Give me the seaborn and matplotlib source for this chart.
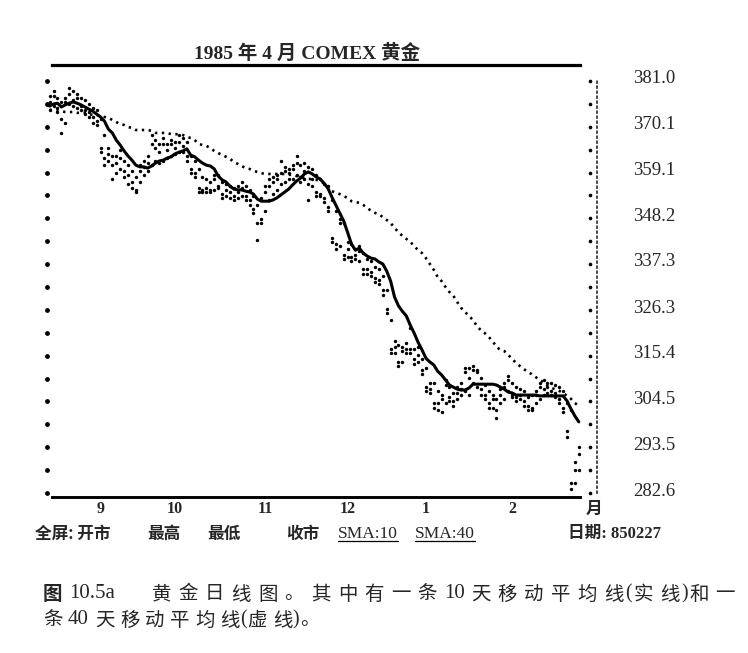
import numpy as np
import pandas as pd
import matplotlib
matplotlib.use('Agg')
import matplotlib.pyplot as plt
import matplotlib.transforms as mtransforms
from matplotlib.lines import Line2D
import seaborn as sns

# ---- data (one value per trading day, Aug 1984 - 27 Feb 1985) ----
highs = [377.5, 378.5, 377.0, 376.0, 377.0, 379.3, 378.5, 378.0, 377.0, 376.5,
         375.5, 374.5, 374.0, 372.0, 368.0, 365.0, 363.0, 363.0, 364.5, 362.0,
         361.0, 359.5, 358.0, 361.0, 362.0, 363.0, 368.0, 367.0, 366.0, 367.5,
         366.0, 367.0, 366.5, 368.0, 367.5, 366.5, 363.0, 362.0, 360.0, 358.0,
         357.5, 357.0, 358.5, 358.5, 357.0, 356.5, 356.0, 355.5, 356.0, 357.0,
         356.0, 355.0, 353.5, 351.5, 353.0, 356.0, 357.5, 358.0, 358.5, 362.0,
         360.5, 360.0, 361.0, 363.0, 361.0, 361.5, 360.5, 360.0, 358.5, 357.5,
         356.5, 356.0, 352.5, 350.0, 348.0, 347.0, 342.5, 342.0, 341.0, 341.5,
         340.0, 338.5, 338.0, 336.5, 336.0, 334.5, 331.0, 324.0, 319.0, 318.0,
         317.5, 318.5, 322.0, 317.0, 317.5, 314.5, 312.5, 309.0, 309.0, 307.0,
         306.0, 309.5, 308.0, 306.5, 308.0, 309.0, 312.5, 312.5, 313.0, 312.0,
         310.0, 308.5, 307.0, 306.0, 305.0, 307.5, 309.0, 310.5, 309.0, 308.0,
         307.5, 307.0, 305.5, 306.0, 307.0, 309.0, 309.5, 309.0, 309.0, 308.5,
         308.0, 307.0, 304.0, 302.5, 290.0, 293.5]

lows = [374.0, 375.0, 373.5, 368.6, 371.0, 375.5, 375.0, 374.5, 374.0, 373.0,
        372.5, 371.0, 370.5, 364.0, 361.0, 362.0, 357.5, 359.0, 360.0, 358.0,
        356.5, 355.5, 354.5, 357.0, 358.5, 359.5, 361.0, 362.0, 361.5, 362.0,
        362.5, 363.0, 363.5, 364.0, 364.0, 362.0, 359.0, 358.0, 354.5, 354.5,
        354.5, 354.5, 355.0, 355.5, 353.0, 353.5, 353.0, 352.5, 353.0, 353.5,
        352.5, 351.5, 349.5, 343.0, 347.0, 350.0, 352.5, 354.0, 355.0, 356.5,
        357.0, 357.5, 357.5, 358.5, 357.0, 357.5, 352.5, 356.0, 353.5, 353.5,
        352.0, 350.0, 342.5, 341.0, 341.5, 338.5, 339.0, 338.0, 338.5, 338.0,
        335.0, 335.0, 334.5, 333.0, 332.5, 330.0, 325.5, 316.0, 316.0, 313.0,
        314.0, 316.0, 316.0, 313.5, 314.0, 311.0, 307.0, 306.5, 303.0, 302.5,
        302.0, 304.0, 304.5, 303.5, 305.0, 306.0, 307.0, 306.0, 309.0, 308.0,
        306.0, 305.0, 303.0, 303.0, 300.5, 304.0, 305.0, 307.0, 305.5, 304.5,
        305.0, 303.5, 302.5, 302.5, 304.0, 305.0, 306.0, 306.5, 306.0, 305.5,
        304.0, 302.0, 296.0, 283.5, 285.0, 288.0]

closes = [376.0, 377.5, 374.5, 372.0, 376.0, 378.0, 376.5, 377.0, 375.0, 374.0,
          373.5, 372.5, 371.5, 365.0, 362.5, 363.5, 361.0, 361.5, 362.5, 359.5,
          358.5, 357.0, 355.0, 359.5, 360.5, 361.5, 366.0, 365.0, 364.0, 366.0,
          364.5, 366.0, 365.0, 366.5, 365.5, 363.0, 360.0, 359.0, 355.5, 355.0,
          355.5, 355.0, 357.5, 356.0, 354.0, 355.0, 354.5, 353.5, 354.5, 355.5,
          353.5, 352.5, 350.5, 347.0, 348.0, 354.5, 356.0, 357.0, 357.5, 359.0,
          359.5, 359.0, 360.0, 361.5, 358.0, 359.5, 356.5, 357.5, 354.5, 354.0,
          353.0, 351.0, 343.5, 342.0, 347.0, 339.5, 341.0, 339.0, 339.5, 340.5,
          336.0, 336.0, 335.5, 334.0, 333.5, 331.0, 326.5, 317.0, 317.5, 314.0,
          316.5, 317.0, 317.0, 314.5, 315.5, 312.0, 308.0, 307.5, 304.0, 304.0,
          305.0, 308.5, 305.5, 304.5, 306.5, 307.5, 311.5, 310.0, 312.0, 311.5,
          307.5, 306.0, 304.0, 305.0, 302.5, 306.0, 308.0, 309.5, 306.0, 305.5,
          306.0, 304.5, 303.5, 303.0, 306.0, 308.0, 307.5, 308.0, 307.0, 306.5,
          305.0, 303.0, 297.5, 285.0, 288.0, 292.0]

sma10 = [375.0, 375.5, 375.7, 374.8, 375.3, 375.7, 376.0, 375.7, 375.3, 374.8,
         374.3, 373.8, 373.1, 372.4, 371.4, 369.5, 368.6, 366.9, 365.7, 364.3,
         363.1, 362.1, 360.9, 360.5, 360.5, 360.2, 360.7, 361.4, 361.9, 362.1,
         362.6, 362.9, 363.6, 364.0, 364.3, 364.8, 363.3, 362.9, 362.1, 361.4,
         360.9, 360.7, 360.0, 358.3, 357.4, 356.9, 355.9, 355.2, 355.0, 355.0,
         354.7, 354.5, 354.0, 352.8, 352.3, 352.3, 352.3, 352.6, 353.1, 353.8,
         354.5, 355.2, 356.2, 357.1, 357.8, 358.8, 359.3, 358.8, 358.1, 357.6,
         356.6, 355.4, 353.3, 351.4, 349.5, 347.6, 344.9, 342.1, 340.6, 341.1,
         339.9, 339.2, 338.7, 338.5, 337.8, 337.3, 335.6, 333.2, 329.4, 327.3,
         326.0, 324.9, 322.7, 320.8, 318.6, 316.8, 314.8, 313.9, 313.2, 311.7,
         310.8, 309.6, 308.4, 307.9, 307.4, 307.2, 307.2, 307.7, 308.6, 308.6,
         308.6, 308.6, 308.6, 308.6, 308.4, 307.9, 307.4, 306.7, 306.5, 306.0,
         306.0, 306.0, 306.0, 306.0, 306.0, 305.8, 305.8, 305.8, 305.8, 305.8,
         305.8, 305.8, 304.6, 302.7, 301.0, 299.6]

sma40 = [374.1, 374.1, 373.8, 373.8, 373.6, 373.6, 373.6, 373.4, 373.4, 373.4,
         373.1, 372.9, 372.9, 372.6, 372.4, 372.2, 371.7, 371.2, 370.7, 370.5,
         370.0, 369.8, 369.3, 369.3, 369.3, 369.3, 369.1, 368.6, 368.6, 368.6,
         368.6, 368.3, 368.3, 368.3, 368.1, 367.6, 367.4, 366.9, 366.0, 365.7,
         365.5, 365.0, 364.3, 363.8, 363.3, 362.9, 362.4, 361.7, 361.2, 360.7,
         360.2, 360.0, 359.5, 359.3, 359.0, 358.8, 358.8, 358.8, 358.8, 358.8,
         358.8, 358.6, 358.6, 358.3, 358.1, 357.8, 357.6, 357.6, 357.4, 357.1,
         356.6, 355.9, 354.7, 354.3, 354.0, 353.5, 353.1, 352.3, 352.1, 351.9,
         351.4, 350.7, 350.0, 349.5, 349.2, 348.5, 347.8, 347.1, 345.9, 344.9,
         344.0, 343.3, 342.6, 341.6, 340.6, 339.9, 338.7, 337.3, 335.9, 334.2,
         333.2, 331.8, 330.6, 329.7, 328.2, 326.8, 325.8, 324.9, 323.9, 322.5,
         321.5, 320.8, 319.9, 318.9, 317.5, 316.8, 316.5, 315.6, 314.6, 313.7,
         312.9, 312.2, 311.5, 311.0, 310.3, 309.6, 309.1, 308.2, 307.7, 307.4,
         307.0, 306.5, 305.8, 305.1, 304.1, 303.4]

# first trading day of each month (index into the daily lists) and its label
month_starts = [13, 32, 55, 76, 96, 118]
month_labels = ['9', '10', '11', '12', '1', '2']

price_ticks = [381.0, 370.1, 359.1, 348.2, 337.3, 326.3, 315.4, 304.5, 293.5, 282.6]

title = '1985 年 4 月 COMEX 黄金'
footer = [('全屏: 开市', 35), ('最高', 147), ('最低', 207), ('收市', 286)]
sma_labels = [('SMA:10', 338), ('SMA:40', 415)]
date_label = '日期: 850227'
caption1 = [('图', 'cjkb'), ('10.5a', 'lat'), ('  ', 'gap'), ('黄金日线图。其中有一条', 'cjk'),
            ('10', 'lat'), ('天移动平均线', 'cjk'), ('(', 'par'), ('实线', 'cjk'),
            (')', 'par'), ('和一', 'cjk')]
caption2 = [('条', 'cjk'), ('40', 'lat'), ('天移动平均线', 'cjk'), ('(', 'par'),
            ('虚线', 'cjk'), (')', 'par'), ('。', 'cjk')]

# ---- figure ----
sns.set_style('white')
SERIF = ['Liberation Serif', 'Noto Sans CJK SC']
CJK = ['Noto Sans CJK SC', 'DejaVu Sans']
plt.rcParams['font.family'] = SERIF

W, H = 748, 653
fig = plt.figure(figsize=(W / 100, H / 100), dpi=100)
ax = fig.add_axes([44 / W, 1 - 497 / H, (597 - 44) / W, (497 - 65) / H])

df = pd.DataFrame({'day': np.arange(len(closes)), 'high': highs, 'low': lows,
                   'close': closes, 'sma10': sma10, 'sma40': sma40})
dots = df.melt(id_vars='day', value_vars=['high', 'low', 'close'], value_name='price')

sns.scatterplot(data=dots, x='day', y='price', s=6, color='black', linewidth=0,
                legend=False, ax=ax)
sns.lineplot(data=df, x='day', y='sma40', color='black', lw=1.9,
             linestyle=(0, (0.9, 1.7)), ax=ax)
sns.lineplot(data=df, x='day', y='sma10', color='black', lw=2.2, ax=ax)

ax.set_xlim(-1.43, 139.64)
ax.set_ylim(281.66, 384.82)
ax.set_xlabel('')
ax.set_ylabel('')

# month ticks under the bottom rule
ax.set_xticks(month_starts, month_labels)
ax.tick_params(axis='x', length=0, pad=3, labelsize=11.5)
for lab in ax.get_xticklabels():
    lab.set_fontweight('bold')

# price scale on the right
ax.yaxis.tick_right()
ax.set_yticks(price_ticks, [f'{v:.1f}' for v in price_ticks])
ax.tick_params(axis='y', length=0, pad=26, labelsize=13.5)
shift = mtransforms.ScaledTranslation(0, 4 / 100, fig.dpi_scale_trans)
for lab in ax.get_yticklabels():
    lab.set_transform(lab.get_transform() + shift)

ax.spines['left'].set_visible(False)
ax.spines['right'].set_linestyle((0, (1, 2)))
ax.spines['right'].set_linewidth(1.2)
ax.spines['right'].set_bounds(282.6, 381.8)
for side, lw in [('top', 2.3), ('bottom', 2.1)]:
    ax.spines[side].set_linewidth(lw)
    ax.spines[side].set_bounds(0.6, 135.4)
    ax.spines[side].set_color('black')

# half-step dot ticks on both sides
half_steps = np.linspace(price_ticks[-1], price_ticks[0], 19)
ytrans = ax.get_yaxis_transform()
ax.scatter(np.full(19, 3 / 553), half_steps, s=12, color='black', marker='o',
           transform=ytrans, clip_on=False, linewidths=0)
ax.scatter(np.full(19, 546 / 553), half_steps, s=7, color='black', marker='o',
           transform=ytrans, clip_on=False, linewidths=0)

# ---- texts ----
fig.text(307.5 / W, 1 - 53 / H, title, ha='center', va='center',
         fontsize=14, fontweight='bold')
fig.text(594 / W, 1 - 509 / H, '月', ha='center', va='center', fontsize=12,
         fontweight='bold', family=CJK)

for txt, x in footer:
    fig.text(x / W, 1 - 534 / H, txt, ha='left', va='center', fontsize=12,
             fontweight='bold', family=CJK)
fig.text(568 / W, 1 - 534 / H, date_label, ha='left', va='center', fontsize=12,
         fontweight='bold')

renderer = fig.canvas.get_renderer()
for txt, x in sma_labels:
    t = fig.text(x / W, 1 - 534 / H, txt, ha='left', va='center', fontsize=12.5)
    bb = t.get_window_extent(renderer)
    fig.add_artist(Line2D([bb.x0 / W, bb.x1 / W], [(bb.y0 + 1) / H] * 2,
                          transform=fig.transFigure, color='black', lw=0.9))


def put_line(parts, x, y, pitch=26.6):
    for txt, kind in parts:
        if kind == 'gap':
            x += 30
            continue
        if kind in ('cjk', 'cjkb'):
            for ch in txt:
                fig.text(x / W, 1 - y / H, ch, ha='left', va='center', fontsize=14,
                         family=CJK, fontweight='bold' if kind == 'cjkb' else 'normal')
                x += pitch
        elif kind == 'par':
            x -= 5
            t = fig.text(x / W, 1 - y / H, txt, ha='left', va='center', fontsize=14.5)
            x += t.get_window_extent(renderer).width + 1
        else:
            t = fig.text(x / W, 1 - y / H, txt, ha='left', va='center', fontsize=15)
            x += t.get_window_extent(renderer).width + 6


put_line(caption1, 43, 594)
put_line(caption2, 43, 620, pitch=25.0)

fig.savefig('out.png', dpi=100)
